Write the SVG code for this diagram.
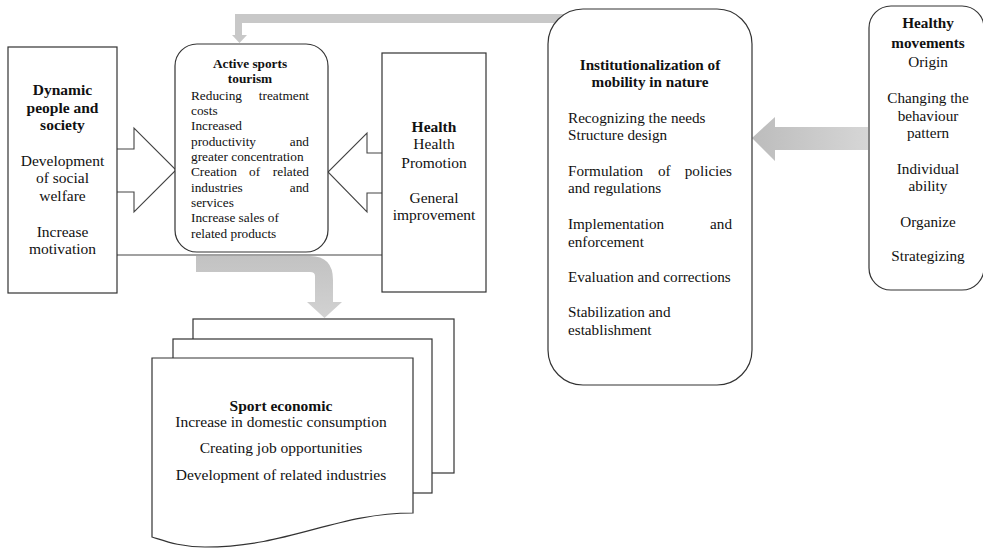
<svg xmlns="http://www.w3.org/2000/svg" width="983" height="548" viewBox="0 0 983 548" font-family="'Liberation Serif', 'Times New Roman', serif">
<defs>
<style>
.box{fill:#fff;stroke:#333;stroke-width:1.2}
.ln{fill:none;stroke:#444;stroke-width:1.1}
.t{font-family:"Liberation Serif","Times New Roman",serif;font-size:15.5px;fill:#111}
.s{font-family:"Liberation Serif","Times New Roman",serif;font-size:13.3px;fill:#111}
.m{font-family:"Liberation Serif","Times New Roman",serif;font-size:15.2px;fill:#111}
.b{font-weight:bold}
.c{text-anchor:middle}
.e{text-anchor:end}
.g{fill:#c8c8c8;stroke:none}
</style>
<linearGradient id="gr" x1="0" y1="0" x2="1" y2="0">
<stop offset="0" stop-color="#bcbcbc"/>
<stop offset="1" stop-color="#d6d6d6"/>
</linearGradient>
<linearGradient id="gv" x1="0" y1="0" x2="0" y2="1">
<stop offset="0" stop-color="#c2c2c2"/>
<stop offset="1" stop-color="#d2d2d2"/>
</linearGradient>
<clipPath id="clipA"><rect x="175" y="44" width="153" height="197"/></clipPath>
</defs>
<rect width="983" height="548" fill="#fff"/>

<g id="connectors">
<line class="ln" x1="117" y1="255" x2="382" y2="255"/>
<polyline class="ln" points="117,149 134,149 134,128 176,170 134,212 134,192 117,192"/>
<polyline class="ln" points="382,153 367,153 367,133 328,172 367,212 367,193 382,193"/>
<path class="g" d="M567,14 H235 V35 H232 L239.5,43 L247,35 H242 V23 H567 Z"/>
<path fill="url(#gv)" d="M196,256 H310 Q333,256 333,280 V302 H342 L324.5,318 L307,302 H315 V276 Q315,272 310,272 H196 Z"/>
<path fill="url(#gr)" d="M752,138 L775,117 V127 H868 V150 H775 V161 Z"/>
</g>

<g id="node-dynamic">
<rect class="box" x="8" y="47" width="109" height="246"/>
<text class="t b c" x="62.5" y="95">Dynamic</text>
<text class="t b c" x="62.5" y="113">people and</text>
<text class="t b c" x="62.5" y="130">society</text>
<text class="t c" x="62.5" y="166">Development</text>
<text class="t c" x="62.5" y="183">of social</text>
<text class="t c" x="62.5" y="201">welfare</text>
<text class="t c" x="62.5" y="237">Increase</text>
<text class="t c" x="62.5" y="254">motivation</text>
</g>

<g id="node-active">
<rect class="box" x="175" y="44" width="153" height="208" rx="22"/>
<text class="s b c" x="250" y="68">Active sports</text>
<text class="s b c" x="250" y="83">tourism</text>
<g clip-path="url(#clipA)">
<text class="s" x="191" y="100">Reducing</text><text class="s e" x="309" y="100">treatment</text>
<text class="s" x="191" y="115">costs</text>
<text class="s" x="191" y="130">Increased</text>
<text class="s" x="191" y="146">productivity</text><text class="s e" x="309" y="146">and</text>
<text class="s" x="191" y="161">greater concentration</text>
<text class="s" x="191" y="176">Creation</text><text class="s" x="249" y="176">of</text><text class="s e" x="309" y="176">related</text>
<text class="s" x="191" y="192">industries</text><text class="s e" x="309" y="192">and</text>
<text class="s" x="191" y="207">services</text>
<text class="s" x="191" y="222">Increase sales of</text>
<text class="s" x="191" y="238">related products</text>
</g>
</g>

<g id="node-health">
<rect class="box" x="382" y="53" width="104" height="239"/>
<text class="t b c" x="434" y="132">Health</text>
<text class="t c" x="434" y="149">Health</text>
<text class="t c" x="434" y="168">Promotion</text>
<text class="t c" x="434" y="203">General</text>
<text class="t c" x="434" y="220">improvement</text>
</g>

<g id="node-institutionalization">
<rect class="box" x="548" y="9" width="204" height="376" rx="35"/>
<text class="m b c" x="650" y="70">Institutionalization of</text>
<text class="m b c" x="650" y="87">mobility in nature</text>
<text class="m" x="568" y="123">Recognizing the needs</text>
<text class="m" x="568" y="140">Structure design</text>
<text class="m" x="568" y="176">Formulation</text><text class="m" x="658" y="176">of</text><text class="m e" x="732" y="176">policies</text>
<text class="m" x="568" y="193">and regulations</text>
<text class="m" x="568" y="229">Implementation</text><text class="m e" x="732" y="229">and</text>
<text class="m" x="568" y="247">enforcement</text>
<text class="m" x="568" y="282">Evaluation and corrections</text>
<text class="m" x="568" y="317">Stabilization and</text>
<text class="m" x="568" y="335">establishment</text>
</g>

<g id="node-healthy-movements">
<rect class="box" x="869" y="6" width="115" height="284" rx="22"/>
<text class="m b c" x="928" y="28">Healthy</text>
<text class="m b c" x="928" y="48">movements</text>
<text class="m c" x="928" y="67">Origin</text>
<text class="m c" x="928" y="103">Changing the</text>
<text class="m c" x="928" y="121">behaviour</text>
<text class="m c" x="928" y="138">pattern</text>
<text class="m c" x="928" y="174">Individual</text>
<text class="m c" x="928" y="191">ability</text>
<text class="m c" x="928" y="227">Organize</text>
<text class="m c" x="928" y="261">Strategizing</text>
</g>

<g id="node-sport-economic">
<rect class="box" x="193" y="319" width="261" height="154"/>
<rect class="box" x="173" y="339" width="259" height="154"/>
<path class="box" d="M152,358 H413 V513 C335,513 290,547 205,547 C180,547 165,541 152,537 Z"/>
<text class="t b c" x="281" y="411">Sport economic</text>
<text class="t c" x="281" y="427">Increase in domestic consumption</text>
<text class="t c" x="281" y="453">Creating job opportunities</text>
<text class="t c" x="281" y="480">Development of related industries</text>
</g>
</svg>
